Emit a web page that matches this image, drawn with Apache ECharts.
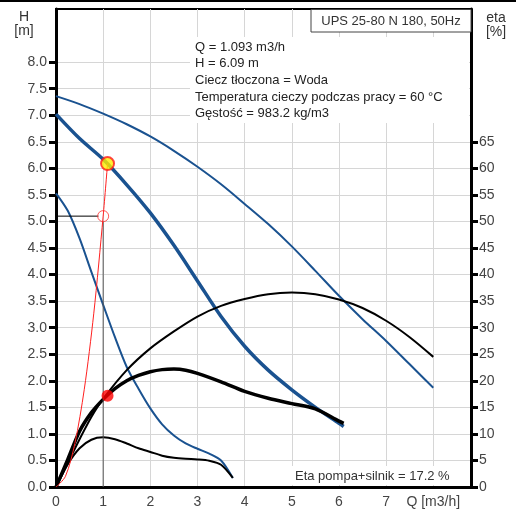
<!DOCTYPE html>
<html>
<head>
<meta charset="utf-8">
<title>UPS 25-80 N 180</title>
<script src="https://cdn.jsdelivr.net/npm/echarts@6/dist/echarts.min.js"></script>
<style>
  html, body { margin: 0; padding: 0; background: #fff; }
  #chart { width: 516px; height: 509px; }
</style>
</head>
<body>
<div id="chart"></div>
<script>
// tick labels
const qTicks = [0, 1, 2, 3, 4, 5, 6, 7, 8];
const hTicks = [0, 0.5, 1, 1.5, 2, 2.5, 3, 3.5, 4, 4.5, 5, 5.5, 6, 6.5, 7, 7.5, 8];
const etaTicks = [0, 5, 10, 15, 20, 25, 30, 35, 40, 45, 50, 55, 60, 65];

// pump curves H(Q), [Q m3/h, H m]
const headMax = [[0, 7.36], [0.5, 7.21], [1, 7.03], [1.5, 6.83], [2, 6.6], [2.5, 6.33], [3, 6.03], [3.5, 5.7],
  [4, 5.33], [4.5, 4.95], [5, 4.53], [5.5, 4.07], [6, 3.6], [6.5, 3.16], [7, 2.75], [7.5, 2.31], [8, 1.87]];
const headMid = [[0, 7.02], [0.5, 6.56], [1, 6.17], [1.5, 5.69], [2, 5.16], [2.5, 4.55], [3, 3.88], [3.5, 3.21],
  [4, 2.65], [4.5, 2.2], [5, 1.83], [5.5, 1.5], [6, 1.2], [6.1, 1.14]];
const headMin = [[0, 5.53], [0.25, 5.2], [0.5, 4.68], [0.75, 4.05], [1, 3.43], [1.25, 2.82], [1.5, 2.26], [1.75, 1.85],
  [2, 1.48], [2.25, 1.18], [2.5, 0.97], [2.75, 0.82], [3, 0.72], [3.25, 0.63], [3.5, 0.5], [3.75, 0.17]];

// efficiency curves, [Q m3/h, eta %]
const etaMax = [[0, 0], [0.25, 4.5], [0.5, 9], [0.75, 13.2], [1, 16.6], [1.5, 22], [2, 26.1], [2.5, 29.3], [3, 32.1],
  [3.5, 34.1], [4, 35.4], [4.5, 36.3], [5, 36.6], [5.5, 36.3], [6, 35.3], [6.5, 33.7], [7, 31.3], [7.5, 28.2], [8, 24.5]];
const etaMid = [[0, 0], [0.25, 5.2], [0.5, 10.5], [0.75, 14], [1, 16.5], [1.25, 18.5], [1.5, 20], [1.75, 21], [2, 21.7],
  [2.25, 22.1], [2.5, 22.2], [2.75, 22], [3, 21.4], [3.5, 19.8], [4, 18], [4.5, 16.7], [5, 15.7], [5.5, 14.7],
  [6, 12.4], [6.1, 12]];
const etaMin = [[0, 0], [0.25, 4.3], [0.5, 7.3], [0.75, 8.9], [1, 9.35], [1.25, 9], [1.5, 8.2], [1.75, 7.3], [2, 6.6],
  [2.25, 5.9], [2.5, 5.5], [2.75, 5.3], [3, 5.2], [3.25, 4.95], [3.5, 4.2], [3.75, 1.7]];

// system curve and duty point
const systemCurve = [[0, 0], [0.2, 0.2], [0.4, 0.82], [0.6, 1.84], [0.8, 3.26], [1.0, 5.1], [1.093, 6.09]];
const dutyPoint = [1.093, 6.09];
const dutyEta = [1.093, 17.2];
const refPoint = [1.0, 5.1];

const infoLines = [
  'Q = 1.093 m3/h',
  'H = 6.09 m',
  'Ciecz tłoczona = Woda',
  'Temperatura cieczy podczas pracy = 60 °C',
  'Gęstość = 983.2 kg/m3'
];

const font = '"Liberation Sans", Arial, sans-serif';
const blue = '#1a5290';

let chart = echarts.init(document.getElementById('chart'));

function curve(data, color, width, axis) {
  return {
    type: 'line',
    data: data,
    yAxisIndex: axis,
    smooth: 0.3,
    showSymbol: false,
    silent: true,
    lineStyle: { color: color, width: width },
    z: 3
  };
}

chart.setOption({
  animation: false,
  textStyle: { fontFamily: font },
  grid: {
    left: 56, right: 45, top: 9, bottom: 22,
    show: true, borderColor: '#000', borderWidth: 2
  },
  xAxis: {
    type: 'value',
    min: 0, max: 8.8, interval: 1,
    axisLine: { lineStyle: { color: '#000', width: 3 } },
    axisTick: { show: false },
    axisLabel: {
      customValues: qTicks,
      color: '#444', fontSize: 14, margin: 8,
      formatter: v => v === 8 ? 'Q [m3/h]' : String(v)
    },
    splitLine: { show: true, lineStyle: { color: '#d6d6d6', width: 1 } }
  },
  yAxis: [
    {
      type: 'value', position: 'left',
      min: 0, max: 9, interval: 0.5,
      axisLine: { show: true, lineStyle: { color: '#000', width: 3 } },
      axisTick: { show: true, customValues: hTicks, length: 7, lineStyle: { color: '#000', width: 3 } },
      axisLabel: {
        customValues: hTicks, color: '#444', fontSize: 14, margin: 9,
        formatter: v => v.toFixed(1)
      },
      splitLine: { show: true, lineStyle: { color: '#d6d6d6', width: 1 } }
    },
    {
      type: 'value', position: 'right',
      min: 0, max: 90, interval: 5,
      axisLine: { show: true, lineStyle: { color: '#000', width: 3 } },
      axisTick: { show: true, customValues: etaTicks, length: 7, lineStyle: { color: '#000', width: 3 } },
      axisLabel: { customValues: etaTicks, color: '#444', fontSize: 14, margin: 8 },
      splitLine: { show: false }
    }
  ],
  series: [
    curve(headMax, blue, 2, 0),
    curve(headMin, blue, 2, 0),
    curve(headMid, blue, 3.5, 0),
    curve(etaMax, '#000', 2, 1),
    curve(etaMin, '#000', 2, 1),
    curve(etaMid, '#000', 3.5, 1),
    {
      // reference guide lines
      type: 'line', yAxisIndex: 0, showSymbol: false, silent: true, z: 4,
      data: [[0, refPoint[1]], [refPoint[0] - 0.1, refPoint[1]]],
      lineStyle: { color: '#000', width: 1 }
    },
    {
      type: 'line', yAxisIndex: 0, showSymbol: false, silent: true, z: 4,
      data: [[refPoint[0], 0], [refPoint[0], refPoint[1] - 0.1]],
      lineStyle: { color: '#555', width: 1 }
    },
    {
      type: 'line', yAxisIndex: 0, data: systemCurve, smooth: 0.3,
      showSymbol: false, silent: true, z: 5,
      lineStyle: { color: '#ff2020', width: 1 }
    },
    {
      type: 'scatter', yAxisIndex: 0, data: [refPoint], symbolSize: 11, z: 6,
      itemStyle: { color: 'rgba(255,255,255,0)', borderColor: '#ff3030', borderWidth: 1 }
    },
    {
      type: 'scatter', yAxisIndex: 0, data: [dutyPoint], symbolSize: 13, z: 7,
      itemStyle: { color: '#ffee00', borderColor: '#ff1a1a', borderWidth: 2 }
    },
    {
      type: 'scatter', yAxisIndex: 1, data: [dutyEta], symbolSize: 12, z: 7,
      itemStyle: { color: '#ff0000' }
    }
  ],
  graphic: [
    { type: 'rect', shape: { x: 0, y: 0, width: 516, height: 2 }, style: { fill: '#000' }, z: 100 },
    {
      type: 'text', x: 24, y: 10, z: 100,
      style: { text: 'H\n[m]', font: '14px ' + font, fill: '#333', align: 'center', lineHeight: 14 }
    },
    {
      type: 'text', x: 496, y: 11, z: 100,
      style: { text: 'eta\n[%]', font: '14px ' + font, fill: '#333', align: 'center', lineHeight: 14 }
    },
    {
      type: 'rect', z: 100,
      shape: { x: 311, y: 9.5, width: 160, height: 22.5 },
      style: { fill: '#fff', stroke: '#444', lineWidth: 1 }
    },
    {
      type: 'text', x: 391, y: 21, z: 101,
      style: { text: 'UPS 25-80 N 180, 50Hz', font: '13px ' + font, fill: '#333', align: 'center', verticalAlign: 'middle' }
    },
    {
      type: 'rect', z: 100,
      shape: { x: 190, y: 37, width: 279, height: 86 },
      style: { fill: '#fff' }
    },
    {
      type: 'text', x: 195, y: 39, z: 101,
      style: { text: infoLines.join('\n'), font: '13px ' + font, fill: '#222', lineHeight: 16.6 }
    },
    {
      type: 'rect', z: 100,
      shape: { x: 290, y: 466, width: 176, height: 19 },
      style: { fill: '#fff' }
    },
    {
      type: 'text', x: 295, y: 476, z: 101,
      style: { text: 'Eta pompa+silnik = 17.2 %', font: '13px ' + font, fill: '#333', verticalAlign: 'middle' }
    }
  ]
});
</script>
</body>
</html>
